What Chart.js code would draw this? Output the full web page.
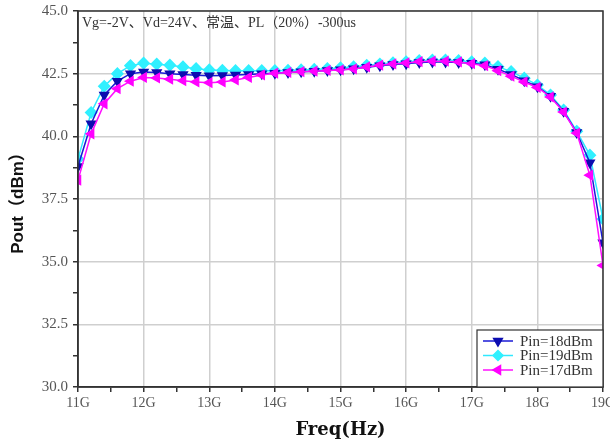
<!DOCTYPE html>
<html>
<head>
<meta charset="utf-8">
<script src="https://cdn.jsdelivr.net/npm/chart.js@4"></script>
<style>
  html, body { margin: 0; padding: 0; background: #fff; }
  #wrap { width: 610px; height: 445px; overflow: hidden; }
</style>
</head>
<body>
<div id="wrap"><canvas id="poutChart" width="610" height="445"></canvas></div>
<script>
// frequency points in GHz
const freqs = [11.0, 11.2, 11.4, 11.6, 11.8, 12.0, 12.2, 12.4, 12.6, 12.8,
               13.0, 13.2, 13.4, 13.6, 13.8, 14.0, 14.2, 14.4, 14.6, 14.8,
               15.0, 15.2, 15.4, 15.6, 15.8, 16.0, 16.2, 16.4, 16.6, 16.8,
               17.0, 17.2, 17.4, 17.6, 17.8, 18.0, 18.2, 18.4, 18.6, 18.8, 19.0];

const pin18 = [38.8, 40.5, 41.65, 42.2, 42.5, 42.57, 42.55, 42.5, 42.47, 42.44,
               42.42, 42.43, 42.45, 42.47, 42.5, 42.52, 42.55, 42.58, 42.6, 42.63,
               42.66, 42.7, 42.76, 42.82, 42.87, 42.9, 42.95, 42.97, 42.97, 42.95,
               42.92, 42.86, 42.68, 42.47, 42.22, 41.98, 41.6, 41.0, 40.15, 38.95, 35.75];

const pin19 = [39.1, 40.95, 42.0, 42.5, 42.82, 42.92, 42.88, 42.84, 42.77, 42.7,
               42.65, 42.63, 42.62, 42.62, 42.62, 42.62, 42.63, 42.65, 42.67, 42.7,
               42.73, 42.77, 42.83, 42.88, 42.93, 42.97, 43.02, 43.04, 43.04, 43.02,
               42.97, 42.92, 42.78, 42.58, 42.32, 42.05, 41.65, 41.05, 40.2, 39.25, 36.7];

const pin17 = [38.25, 40.1, 41.3, 41.9, 42.2, 42.35, 42.33, 42.28, 42.22, 42.17,
               42.14, 42.17, 42.25, 42.35, 42.45, 42.52, 42.55, 42.58, 42.6, 42.63,
               42.65, 42.69, 42.77, 42.84, 42.89, 42.93, 42.98, 43.0, 43.0, 42.97,
               42.9, 42.82, 42.62, 42.4, 42.17, 41.95, 41.57, 40.97, 40.13, 38.45, 34.85];

const seriesNames = ['Pin=18dBm', 'Pin=19dBm', 'Pin=17dBm'];
const xTickLabels = ['11G', '12G', '13G', '14G', '15G', '16G', '17G', '18G', '19G'];
const noteText = 'Vg=-2V、Vd=24V、常温、PL（20%）-300us';

const serif = '"Liberation Serif", "Noto Sans CJK SC", serif';

function pts(ys) {
    return freqs.map((f, i) => ({ x: f, y: ys[i] }));
}

// frame, note text and legend box inside the plot
const decorPlugin = {
    id: 'decor',
    afterDraw(chart) {
        const ctx = chart.ctx;
        const a = chart.chartArea;
        ctx.save();
        ctx.strokeStyle = '#333';
        ctx.lineWidth = 1.5;
        ctx.strokeRect(a.left, a.top, a.right - a.left, a.bottom - a.top);

        ctx.fillStyle = '#333';
        ctx.font = '14px ' + serif;
        ctx.textBaseline = 'middle';
        ctx.fillText(noteText, a.left + 4, a.top + 12);

        // legend
        const bw = 126, bh = 57;
        const bx = a.right - bw, by = a.bottom - bh;
        ctx.fillStyle = '#fff';
        ctx.fillRect(bx, by, bw, bh);
        ctx.strokeStyle = '#333';
        ctx.lineWidth = 1.2;
        ctx.strokeRect(bx, by, bw, bh);
        const ds = chart.data.datasets;
        ds.forEach((d, i) => {
            const y = by + 11 + i * 14.5;
            ctx.strokeStyle = d.borderColor;
            ctx.lineWidth = 1.5;
            ctx.beginPath();
            ctx.moveTo(bx + 6, y);
            ctx.lineTo(bx + 36, y);
            ctx.stroke();
            ctx.fillStyle = d.pointBackgroundColor;
            ctx.strokeStyle = d.pointBackgroundColor;
            Chart.helpers.drawPoint(ctx, {
                pointStyle: d.pointStyle,
                rotation: d.pointRotation,
                radius: 5,
                borderWidth: 1
            }, bx + 21, y);
            ctx.fillStyle = '#333';
            ctx.font = '15px ' + serif;
            ctx.textBaseline = 'middle';
            ctx.fillText(d.label, bx + 43, y + 1);
        });
        ctx.restore();
    }
};

const ctx = document.getElementById('poutChart').getContext('2d');

new Chart(ctx, {
    type: 'line',
    data: {
        datasets: [
            {
                label: seriesNames[0],
                data: pts(pin18),
                borderColor: '#1a1ad6',
                backgroundColor: '#0c0cb0',
                pointBackgroundColor: '#0c0cb0',
                pointBorderColor: '#0c0cb0',
                pointStyle: 'triangle',
                pointRotation: 180,
                pointRadius: 5,
                borderWidth: 1.5,
                order: 1
            },
            {
                label: seriesNames[1],
                data: pts(pin19),
                borderColor: '#30e8ff',
                backgroundColor: '#30f0ff',
                pointBackgroundColor: '#30f0ff',
                pointBorderColor: '#30f0ff',
                pointStyle: 'rectRot',
                pointRotation: 0,
                pointRadius: 5.5,
                borderWidth: 1.5,
                order: 2
            },
            {
                label: seriesNames[2],
                data: pts(pin17),
                borderColor: '#ff10ff',
                backgroundColor: '#ff00ff',
                pointBackgroundColor: '#ff00ff',
                pointBorderColor: '#ff00ff',
                pointStyle: 'triangle',
                pointRotation: 270,
                pointRadius: 5,
                borderWidth: 1.5,
                order: 0
            }
        ]
    },
    options: {
        responsive: false,
        animation: false,
        layout: {
            padding: { top: 11, right: 7, left: 0, bottom: 0 }
        },
        plugins: {
            legend: { display: false },
            tooltip: { enabled: false }
        },
        scales: {
            x: {
                type: 'linear',
                min: 11,
                max: 19,
                afterFit: function(scale) {
                    scale.height = 58;
                    scale.paddingRight = 0;
                    scale.paddingLeft = 0;
                },
                ticks: {
                    stepSize: 0.5,
                    autoSkip: false,
                    maxRotation: 0,
                    color: '#555',
                    font: { family: serif, size: 14 },
                    padding: 3,
                    callback: function(value) {
                        return Number.isInteger(value) ? xTickLabels[value - 11] : '';
                    }
                },
                grid: {
                    color: c => (c.tick && Number.isInteger(c.tick.value)) ? '#cfcfcf' : 'rgba(0,0,0,0)',
                    lineWidth: 1.5,
                    tickColor: '#333',
                    tickLength: 5
                },
                border: { color: '#333', width: 1.5 },
                title: {
                    display: true,
                    text: 'Freq(Hz)',
                    color: '#111',
                    font: { family: '"DejaVu Serif", serif', size: 18, weight: 'bold' },
                    padding: { top: 5 }
                }
            },
            y: {
                min: 30,
                max: 45,
                afterFit: function(scale) {
                    scale.width = 78;
                    scale.paddingTop = 0;
                    scale.paddingBottom = 0;
                },
                ticks: {
                    stepSize: 1.25,
                    autoSkip: false,
                    color: '#555',
                    font: { family: serif, size: 15 },
                    padding: 5,
                    callback: function(value) {
                        return (value % 2.5 === 0) ? value.toFixed(1) : '';
                    }
                },
                grid: {
                    color: c => (c.tick && c.tick.value % 2.5 === 0) ? '#cfcfcf' : 'rgba(0,0,0,0)',
                    lineWidth: 1.5,
                    tickColor: '#333',
                    tickLength: 5
                },
                border: { color: '#333', width: 1.5 },
                title: {
                    display: true,
                    text: 'Pout（dBm）',
                    color: '#111',
                    font: { family: '"Liberation Sans", "Noto Sans CJK SC", sans-serif', size: 17, weight: 'bold' },
                    padding: { top: 8, bottom: 2 }
                }
            }
        }
    },
    plugins: [decorPlugin]
});
</script>
</body>
</html>
